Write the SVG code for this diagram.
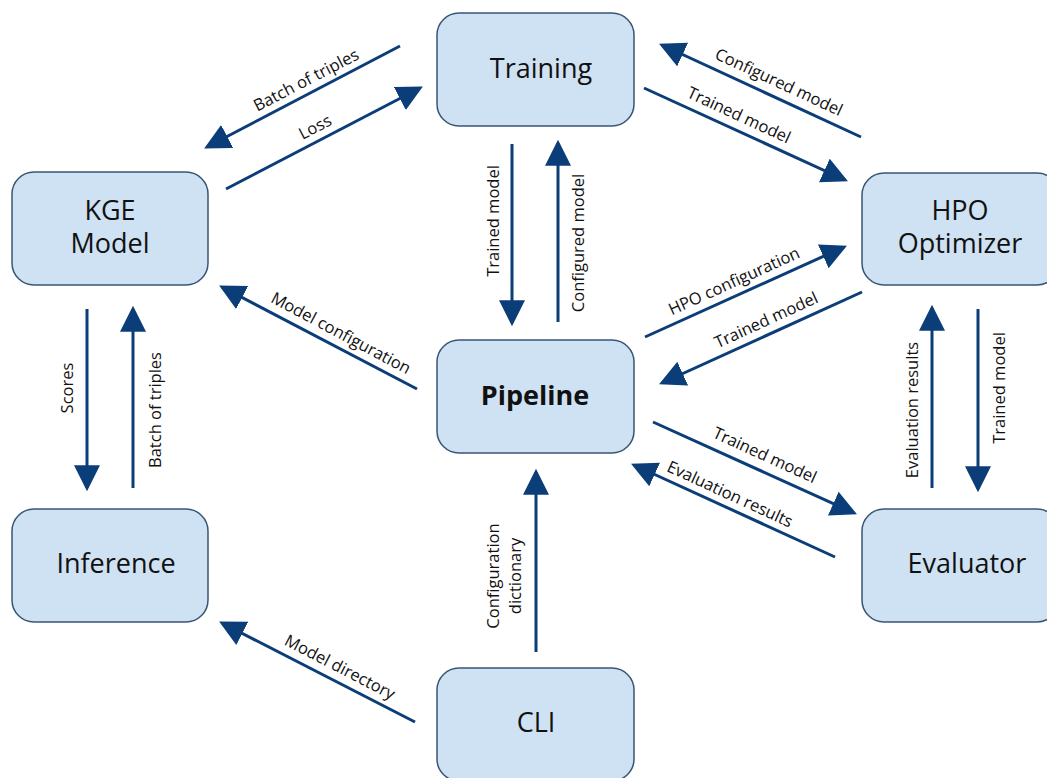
<svg xmlns="http://www.w3.org/2000/svg" width="1047" height="778" viewBox="0 0 1047 778">
<style>
.box{fill:#cfe2f3;stroke:#3a5675;stroke-width:1.5}
.nt{font-family:"Open Sans","Liberation Sans",sans-serif;font-size:27px;fill:#111;text-anchor:middle}
.lb{font-family:"Open Sans","Liberation Sans",sans-serif;font-size:16.5px;fill:#111;text-anchor:middle}
.ar{stroke:#0b3d78;stroke-width:3;fill:none;marker-end:url(#ah)}
</style>
<defs>
<marker id="ah" markerUnits="userSpaceOnUse" markerWidth="26" markerHeight="26" viewBox="0 0 24 24" refX="21" refY="12" orient="auto">
<path d="M0,0 L24,12 L0,24 z" fill="#0b3d78"/>
</marker>
</defs>
<rect width="1047" height="778" fill="#fff"/>
<g id="training"><rect class="box" x="437" y="13" width="197" height="113" rx="22"/><text class="nt" x="541" y="78">Training</text></g>
<g id="kge"><rect class="box" x="12" y="172" width="196" height="113" rx="22"/><text class="nt" y="220"><tspan x="110">KGE</tspan><tspan x="110" dy="33">Model</tspan></text></g>
<g id="hpo"><rect class="box" x="862" y="173" width="197" height="112" rx="22"/><text class="nt" y="220"><tspan x="960">HPO</tspan><tspan x="960" dy="33">Optimizer</tspan></text></g>
<g id="pipeline"><rect class="box" x="437" y="340" width="197" height="113" rx="22"/><text class="nt" x="535" y="405" font-weight="bold" font-size="24.5">Pipeline</text></g>
<g id="inference"><rect class="box" x="12" y="509" width="196" height="113" rx="22"/><text class="nt" x="116" y="573">Inference</text></g>
<g id="evaluator"><rect class="box" x="862" y="509" width="197" height="113" rx="22"/><text class="nt" x="967" y="573">Evaluator</text></g>
<g id="cli"><rect class="box" x="437" y="668" width="197" height="113" rx="22"/><text class="nt" x="536" y="732">CLI</text></g>
<g id="connectors">
<line class="ar" x1="400" y1="46" x2="207" y2="147"/>
<line class="ar" x1="226" y1="189" x2="420" y2="88"/>
<line class="ar" x1="861" y1="137" x2="662" y2="45"/>
<line class="ar" x1="644" y1="88" x2="845" y2="180"/>
<line class="ar" x1="512" y1="144" x2="512" y2="323"/>
<line class="ar" x1="558" y1="322" x2="558" y2="143"/>
<line class="ar" x1="417" y1="389" x2="222" y2="287"/>
<line class="ar" x1="87" y1="309" x2="87" y2="488"/>
<line class="ar" x1="133" y1="488" x2="133" y2="309"/>
<line class="ar" x1="645" y1="337" x2="844" y2="247"/>
<line class="ar" x1="862" y1="292" x2="662" y2="383"/>
<line class="ar" x1="653" y1="422" x2="854" y2="513"/>
<line class="ar" x1="835" y1="557" x2="634" y2="465"/>
<line class="ar" x1="932" y1="488" x2="932" y2="308"/>
<line class="ar" x1="978" y1="309" x2="978" y2="489"/>
<line class="ar" x1="536" y1="652" x2="536" y2="472"/>
<line class="ar" x1="415" y1="722" x2="222" y2="623"/>
</g>
<g id="labels">
<text class="lb" dy="0.35em" transform="translate(306,80) rotate(-27.4)">Batch of triples</text>
<text class="lb" dy="0.35em" transform="translate(315,127) rotate(-27.5)">Loss</text>
<text class="lb" dy="0.35em" transform="translate(779,82) rotate(24.8)">Configured model</text>
<text class="lb" dy="0.35em" transform="translate(739,115) rotate(24.8)">Trained model</text>
<text class="lb" dy="0.35em" transform="translate(493,221) rotate(-90)">Trained model</text>
<text class="lb" dy="0.35em" transform="translate(578,243) rotate(-90)">Configured model</text>
<text class="lb" dy="0.35em" transform="translate(341,333) rotate(28)">Model configuration</text>
<text class="lb" dy="0.35em" transform="translate(67,388) rotate(-90)">Scores</text>
<text class="lb" dy="0.35em" transform="translate(155,410) rotate(-90)">Batch of triples</text>
<text class="lb" dy="0.35em" transform="translate(734,281) rotate(-24.4)">HPO configuration</text>
<text class="lb" dy="0.35em" transform="translate(766,320) rotate(-24.6)">Trained model</text>
<text class="lb" dy="0.35em" transform="translate(765,455) rotate(24.5)">Trained model</text>
<text class="lb" dy="0.35em" transform="translate(730,494) rotate(24.7)">Evaluation results</text>
<text class="lb" dy="0.35em" transform="translate(912,410) rotate(-90)">Evaluation results</text>
<text class="lb" dy="0.35em" transform="translate(999,388) rotate(-90)">Trained model</text>
<text class="lb" dy="0.35em" transform="translate(493,576) rotate(-90)">Configuration</text>
<text class="lb" dy="0.35em" transform="translate(515,576) rotate(-90)">dictionary</text>
<text class="lb" dy="0.35em" transform="translate(340,667) rotate(27.3)">Model directory</text>
</g>
</svg>
